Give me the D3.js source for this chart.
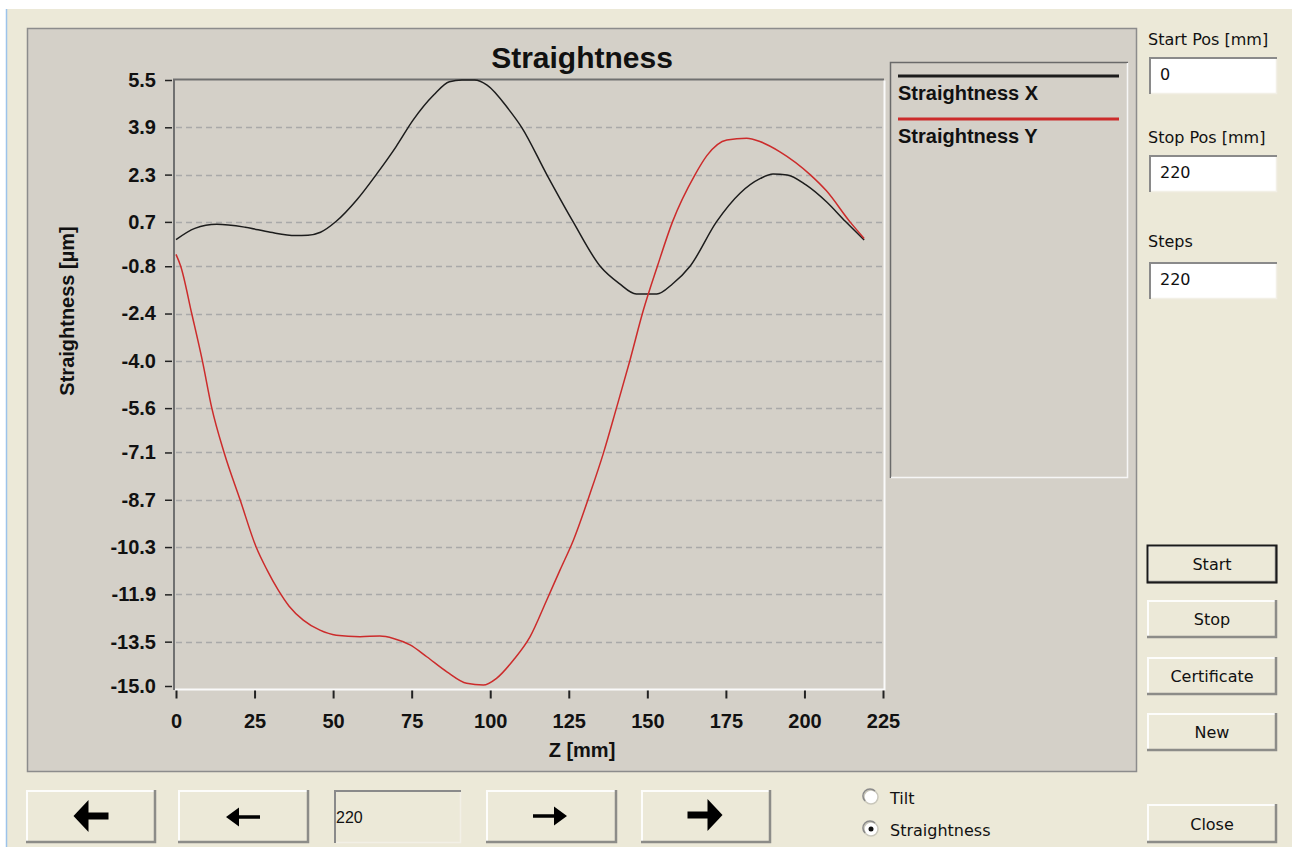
<!DOCTYPE html>
<html>
<head>
<meta charset="utf-8">
<script src="https://cdn.jsdelivr.net/npm/d3@7"></script>
<style>
  body { margin: 0; background: #fff; }
  svg { display: block; }
  .chart text { font-family: 'Liberation Sans', Arial, sans-serif; font-weight: bold; fill: #111; }
  .ui text { font-family: 'DejaVu Sans', Tahoma, sans-serif; font-size: 16px; fill: #111; }
</style>
</head>
<body>
<script>
// data
const zX = [0, 6, 13, 22, 30, 38, 42, 46, 51, 57.5, 64, 70, 75.5, 82, 87, 91, 95, 99, 106, 110, 118, 126.4, 135, 141, 146.5, 153, 158, 163.6, 172, 179.5, 186, 190, 194.5, 200.5, 207, 213, 219]
const vX = [0.1, 0.48, 0.62, 0.52, 0.35, 0.24, 0.25, 0.35, 0.72, 1.44, 2.34, 3.24, 4.15, 4.99, 5.44, 5.5, 5.5, 5.33, 4.49, 3.9, 2.3, 0.7, -0.8, -1.38, -1.74, -1.74, -1.4, -0.8, 0.7, 1.67, 2.17, 2.32, 2.29, 1.95, 1.38, 0.72, 0.09]

const zY = [0, 1.5, 5, 8.4, 11.4, 15.3, 20.4, 25.5, 29, 32.5, 36, 40.5, 45.8, 51, 58.6, 64.9, 69.2, 74.5, 79.8, 86.2, 92.5, 97.8, 102, 107.4, 112.7, 118, 122.2, 126.5, 131.8, 136, 140.3, 144.5, 148.7, 153.2, 158, 165.2, 169, 175.3, 181.6, 186, 192.2, 201.8, 207, 214.5, 219]
const vY = [-0.4, -0.8, -2.4, -4.0, -5.6, -7.1, -8.7, -10.3, -11.08, -11.75, -12.3, -12.77, -13.11, -13.28, -13.33, -13.31, -13.39, -13.61, -14.01, -14.52, -14.91, -14.97, -14.74, -14.12, -13.33, -12.09, -11.08, -10.06, -8.48, -7.13, -5.55, -3.97, -2.3, -0.8, 0.7, 2.3, 2.95, 3.47, 3.53, 3.41, 3.07, 2.3, 1.75, 0.7, 0.14]

const seriesNames = ['Straightness X', 'Straightness Y']
const seriesColors = ['#1c1c1c', '#cc2b2b']
const xTicks = [0, 25, 50, 75, 100, 125, 150, 175, 200, 225]
const yTicks = [5.5, 3.9, 2.3, 0.7, -0.8, -2.4, -4.0, -5.6, -7.1, -8.7, -10.3, -11.9, -13.5, -15.0]

const series = [
  { name: seriesNames[0], color: seriesColors[0], points: zX.map((z, i) => ({ z, v: vX[i] })) },
  { name: seriesNames[1], color: seriesColors[1], points: zY.map((z, i) => ({ z, v: vY[i] })) }
]

const W = 1292
const H = 847
const svg = d3.select('body').append('svg').attr('width', W).attr('height', H)

// window background
svg.append('rect').attr('width', W).attr('height', H).attr('fill', '#fff')
svg.append('rect').attr('x', 7).attr('y', 9).attr('width', W - 7).attr('height', H - 9).attr('fill', '#ece9d8')
svg.append('line').attr('x1', 6.5).attr('x2', 6.5).attr('y1', 9).attr('y2', H).attr('stroke', '#9cc3ea').attr('stroke-width', 1.5)

// chart panel
const chart = svg.append('g').attr('class', 'chart')
chart.append('rect')
  .attr('x', 27.5).attr('y', 28.5).attr('width', 1109).attr('height', 743)
  .attr('fill', '#d4d0c8').attr('stroke', '#8c8c8c').attr('stroke-width', 1.5)

const x = d3.scaleLinear().domain([0, 225]).range([176, 883])
const y = d3.scaleLinear().domain([-15, 5.5]).range([686, 80])

// grid
chart.append('g')
  .selectAll('line')
  .data(yTicks.slice(1, -1))
  .join('line')
    .attr('x1', x(0)).attr('x2', x(225))
    .attr('y1', d => Math.round(y(d)) + 0.5).attr('y2', d => Math.round(y(d)) + 0.5)
    .attr('stroke', '#a9a9a9').attr('stroke-width', 1.5)
    .attr('stroke-dasharray', '6,4')

// plot frame, sunken look
chart.append('path')
  .attr('d', `M174,690V79.5H884`)
  .attr('fill', 'none').attr('stroke', '#707070').attr('stroke-width', 2)
chart.append('path')
  .attr('d', `M175,689.5H884.5V80.5`)
  .attr('fill', 'none').attr('stroke', '#fafafa').attr('stroke-width', 2)

// axes
const yAxis = d3.axisLeft(y).tickValues(yTicks).tickSize(7).tickPadding(9).tickFormat(d => d.toFixed(1))
const gy = chart.append('g').attr('transform', 'translate(172,0)').call(yAxis)
gy.select('.domain').remove()
gy.selectAll('.tick line').attr('stroke', '#222').attr('stroke-width', 1.5)
gy.selectAll('.tick text').style('font-size', '20px')

const xAxis = d3.axisBottom(x).tickValues(xTicks).tickSize(8).tickPadding(15)
const gx = chart.append('g').attr('transform', 'translate(0,690.5)').call(xAxis)
gx.select('.domain').remove()
gx.selectAll('.tick line').attr('stroke', '#222').attr('stroke-width', 2)
gx.selectAll('.tick text').style('font-size', '20px')

// curves
const line = d3.line()
  .x(d => x(d.z))
  .y(d => y(d.v))
  .curve(d3.curveMonotoneX)

chart.append('g')
  .selectAll('path')
  .data(series)
  .join('path')
    .attr('d', d => line(d.points))
    .attr('fill', 'none')
    .attr('stroke', d => d.color)
    .attr('stroke-width', 1.5)

// titles
chart.append('text')
  .attr('x', 582).attr('y', 68)
  .attr('text-anchor', 'middle')
  .style('font-size', '30px')
  .text('Straightness')

chart.append('text')
  .attr('x', 582).attr('y', 757)
  .attr('text-anchor', 'middle')
  .style('font-size', '20px')
  .text('Z [mm]')

chart.append('text')
  .attr('transform', 'translate(74,311) rotate(-90)')
  .attr('text-anchor', 'middle')
  .style('font-size', '20px')
  .text('Straightness [µm]')

// legend
chart.append('rect')
  .attr('x', 890).attr('y', 62).attr('width', 238).attr('height', 416)
  .attr('fill', '#d4d0c8')
chart.append('path')
  .attr('d', 'M890.5,478V62.5H1128')
  .attr('fill', 'none').attr('stroke', '#6a6a6a').attr('stroke-width', 1.5)
chart.append('path')
  .attr('d', 'M891,477.5H1127.5V63')
  .attr('fill', 'none').attr('stroke', '#f6f6f6').attr('stroke-width', 1.5)

const legendItem = chart.append('g')
  .selectAll('g')
  .data(series)
  .join('g')
    .attr('transform', (d, i) => `translate(898,${76 + i * 43})`)
legendItem.append('line')
  .attr('x1', 0).attr('x2', 221)
  .attr('stroke', d => d.color).attr('stroke-width', 3)
legendItem.append('text')
  .attr('y', 24)
  .style('font-size', '20px')
  .text(d => d.name)

// controls
const ui = svg.append('g').attr('class', 'ui')

const sunken = (bx, by, w, h, fill) => {
  ui.append('rect').attr('x', bx).attr('y', by).attr('width', w).attr('height', h).attr('fill', fill)
  ui.append('path')
    .attr('d', `M${bx + 1},${by + h}V${by + 1}H${bx + w}`)
    .attr('fill', 'none').attr('stroke', '#8a8a8a').attr('stroke-width', 2)
  ui.append('path')
    .attr('d', `M${bx + 2},${by + h - 0.5}H${bx + w - 0.5}V${by + 2}`)
    .attr('fill', 'none').attr('stroke', '#f2f0e6').attr('stroke-width', 1.5)
}

const button = (bx, by, w, h, label, isDefault) => {
  ui.append('rect').attr('x', bx).attr('y', by).attr('width', w).attr('height', h).attr('fill', '#ece9d8')
  ui.append('path')
    .attr('d', `M${bx + 1},${by + h - 1}V${by + 1}H${bx + w - 1}`)
    .attr('fill', 'none').attr('stroke', '#fdfdfb').attr('stroke-width', 2)
  ui.append('path')
    .attr('d', `M${bx},${by + h - 1}H${bx + w - 1}V${by}`)
    .attr('fill', 'none').attr('stroke', '#8c8c88').attr('stroke-width', 2.5)
  if (isDefault) {
    ui.append('rect')
      .attr('x', bx + 0.5).attr('y', by + 0.5).attr('width', w - 1).attr('height', h - 1)
      .attr('fill', 'none').attr('stroke', '#1a1a1a').attr('stroke-width', 2)
  }
  if (label) {
    ui.append('text')
      .attr('x', bx + w / 2).attr('y', by + h / 2 + 6)
      .attr('text-anchor', 'middle')
      .text(label)
  }
}

const fields = [
  { label: 'Start Pos [mm]', value: '0', top: 57, ly: 45 },
  { label: 'Stop Pos [mm]', value: '220', top: 155, ly: 143 },
  { label: 'Steps', value: '220', top: 262, ly: 247 }
]
fields.forEach(f => {
  ui.append('text').attr('x', 1148).attr('y', f.ly).text(f.label)
  sunken(1149, f.top, 128, 37, '#fff')
  ui.append('text').attr('x', 1160).attr('y', f.top + 23).text(f.value)
})

button(1147, 545, 130, 38, 'Start', true)
button(1147, 600, 130, 38, 'Stop')
button(1147, 657, 130, 38, 'Certificate')
button(1147, 713, 130, 38, 'New')
button(1147, 804, 130, 39, 'Close')

// bottom navigation
const arrow = (cx, cy, dir, thick) => {
  const len = thick ? 35 : 34
  const head = thick ? 15 : 13
  const hh = thick ? 16 : 9.5
  const sh = thick ? 3.5 : 1.8
  const x0 = cx - len / 2
  const x1 = cx + len / 2
  const p = dir < 0
    ? `M${x0},${cy}L${x0 + head},${cy - hh}V${cy - sh}H${x1}V${cy + sh}H${x0 + head}V${cy + hh}Z`
    : `M${x1},${cy}L${x1 - head},${cy - hh}V${cy - sh}H${x0}V${cy + sh}H${x1 - head}V${cy + hh}Z`
  ui.append('path').attr('d', p).attr('fill', '#000')
}

button(26, 790, 130, 53)
arrow(91, 816, -1, true)
button(178, 790, 131, 53)
arrow(243, 817, -1, false)
sunken(334, 790, 127, 53, '#ece9d8')
ui.append('text')
  .attr('x', 336).attr('y', 823)
  .style('font-family', "'Liberation Sans', Arial, sans-serif")
  .text('220')
button(486, 790, 131, 53)
arrow(550, 816, 1, false)
button(641, 790, 130, 53)
arrow(705, 815, 1, true)

// radio buttons
const radios = [
  { label: 'Tilt', cy: 797, checked: false },
  { label: 'Straightness', cy: 829, checked: true }
]
radios.forEach(r => {
  ui.append('circle').attr('cx', 871).attr('cy', r.cy).attr('r', 7)
    .attr('fill', '#fff').attr('stroke', '#c9c7bb').attr('stroke-width', 1.5)
  ui.append('path')
    .attr('d', `M${865},${r.cy + 4}A7,7 0 0 1 ${875},${r.cy - 6}`)
    .attr('fill', 'none').attr('stroke', '#8a8a8a').attr('stroke-width', 1.5)
  if (r.checked) {
    ui.append('circle').attr('cx', 871).attr('cy', r.cy).attr('r', 2.5).attr('fill', '#111')
  }
  ui.append('text').attr('x', 890).attr('y', r.cy + 7).text(r.label)
})
</script>
</body>
</html>
